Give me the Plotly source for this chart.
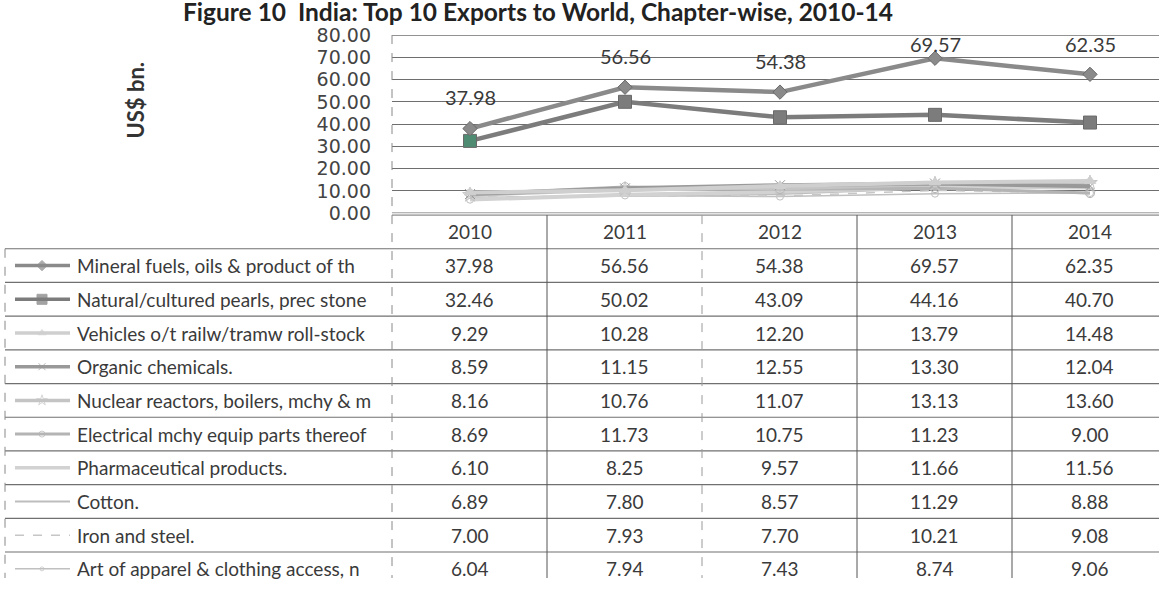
import plotly.graph_objects as go

# ---------------- data ----------------
years = ["2010", "2011", "2012", "2013", "2014"]
series_names = [
    "Mineral fuels, oils & product of th",
    "Natural/cultured pearls, prec stone",
    "Vehicles o/t railw/tramw roll-stock",
    "Organic chemicals.",
    "Nuclear reactors, boilers, mchy & m",
    "Electrical mchy equip parts thereof",
    "Pharmaceutical products.",
    "Cotton.",
    "Iron and steel.",
    "Art of apparel & clothing access, n",
]
mineral_fuels = [37.98, 56.56, 54.38, 69.57, 62.35]
pearls_stones = [32.46, 50.02, 43.09, 44.16, 40.70]
vehicles = [9.29, 10.28, 12.20, 13.79, 14.48]
organic_chem = [8.59, 11.15, 12.55, 13.30, 12.04]
nuclear_mchy = [8.16, 10.76, 11.07, 13.13, 13.60]
electrical_mchy = [8.69, 11.73, 10.75, 11.23, 9.00]
pharma = [6.10, 8.25, 9.57, 11.66, 11.56]
cotton = [6.89, 7.80, 8.57, 11.29, 8.88]
iron_steel = [7.00, 7.93, 7.70, 10.21, 9.08]
apparel = [6.04, 7.94, 7.43, 8.74, 9.06]
y_ticks = [0, 10, 20, 30, 40, 50, 60, 70, 80]

values = [mineral_fuels, pearls_stones, vehicles, organic_chem, nuclear_mchy,
          electrical_mchy, pharma, cotton, iron_steel, apparel]

# ---------------- styles ----------------
styles = [
    dict(color="#8a8a8a", width=4.5, dash="solid", symbol="diamond", msize=11),
    dict(color="#7c7c7c", width=4.5, dash="solid", symbol="square", msize=13),
    dict(color="#cfcfcf", width=4, dash="solid", symbol="triangle-up", msize=10),
    dict(color="#999999", width=4, dash="solid", symbol="x-thin-open", msize=10),
    dict(color="#c4c4c4", width=4, dash="solid", symbol="star-open", msize=11),
    dict(color="#b4b4b4", width=3, dash="solid", symbol="circle-open", msize=9),
    dict(color="#d2d2d2", width=4, dash="solid", symbol=None, msize=0),
    dict(color="#bdbdbd", width=2, dash="solid", symbol=None, msize=0),
    dict(color="#c6c6c6", width=1.5, dash="dash", symbol=None, msize=0),
    dict(color="#c0c0c0", width=1.5, dash="solid", symbol="circle-open", msize=7),
]

W, H = 1159, 589
plot_left, plot_top, plot_bottom = 392, 25, 210
col_w = 155
hdr_top, row_h = 212, 35
table_left = 5
text_font = "Lato"
txt_color = "#3a3a3a"
tbl_size = 19

fig = go.Figure()

# main chart series (small ones first so the big ones sit on top)
for i in reversed(range(len(series_names))):
    s = styles[i]
    mode = "lines+markers" if s["symbol"] else "lines"
    mcolor = s["color"]
    if i == 1:
        mcolor = ["#4f8a72"] + [s["color"]] * (len(years) - 1)
    fig.add_trace(go.Scatter(
        x=list(range(len(years))), y=values[i], mode=mode, name=series_names[i],
        line=dict(color=s["color"], width=s["width"], dash=s["dash"]),
        marker=dict(symbol=s["symbol"] or "circle", size=s["msize"], color=mcolor,
                    line=dict(color="#6a6a6a" if i < 2 else s["color"], width=1)),
        xaxis="x", yaxis="y", showlegend=False, hoverinfo="skip",
    ))

# data labels for the top series
for k, v in enumerate(mineral_fuels):
    fig.add_annotation(x=k, y=min(v + 14, 76), xref="x", yref="y",
                       text=f"{v:.2f}", showarrow=False,
                       font=dict(family=text_font, size=20, color=txt_color))

# top / bottom grid lines of the value axis
for gv in (y_ticks[0], y_ticks[-1]):
    fig.add_shape(type="line", xref="paper", yref="y", x0=plot_left / W, x1=1, y0=gv, y1=gv,
                  line=dict(color="#6e6e6e", width=1.2))

# ---------------- data table (pixel-like overlay axes) ----------------
n_rows = len(series_names)
table_bottom = hdr_top + row_h * (n_rows + 1)
col_edges = [plot_left + col_w * k for k in range(len(years) + 1)]
line_col = "#707070"

fig.add_shape(type="line", xref="x2", yref="y2", x0=plot_left, x1=W, y0=hdr_top, y1=hdr_top,
              line=dict(color=line_col, width=1))
for r in range(n_rows):
    yy = hdr_top + row_h * (r + 1)
    fig.add_shape(type="line", xref="x2", yref="y2", x0=table_left, x1=W, y0=yy, y1=yy,
                  line=dict(color=line_col, width=1.2))
fig.add_shape(type="line", xref="x2", yref="y2", x0=table_left, x1=table_left,
              y0=hdr_top + row_h, y1=table_bottom, line=dict(color="#888", width=1, dash="dash"))
fig.add_shape(type="line", xref="x2", yref="y2", x0=plot_left, x1=plot_left,
              y0=plot_top, y1=table_bottom, line=dict(color="#888", width=1, dash="dash"))
for k, xe in enumerate(col_edges[1:-1]):
    fig.add_shape(type="line", xref="x2", yref="y2", x0=xe, x1=xe, y0=hdr_top, y1=table_bottom,
                  line=dict(color="#555" if k != 1 else "#999", width=1,
                            dash="solid" if k != 1 else "dash"))

for k, yr in enumerate(years):
    fig.add_annotation(x=plot_left + col_w * (k + 0.5), y=hdr_top + row_h / 2, xref="x2", yref="y2",
                       text=yr, showarrow=False,
                       font=dict(family=text_font, size=tbl_size, color=txt_color))

for r, name in enumerate(series_names):
    cy = hdr_top + row_h * (r + 1.5)
    s = styles[r]
    fig.add_trace(go.Scatter(
        x=[15, 42, 70], y=[cy, cy, cy], xaxis="x2", yaxis="y2",
        mode="lines+markers" if s["symbol"] else "lines",
        line=dict(color=s["color"], width=min(s["width"], 3.5), dash=s["dash"]),
        marker=dict(symbol=s["symbol"] or "circle", size=[0, max(s["msize"] - 3, 0), 0],
                    color=s["color"], line=dict(color=s["color"], width=1)),
        showlegend=False, hoverinfo="skip",
    ))
    fig.add_annotation(x=75, y=cy, xref="x2", yref="y2", text=name, showarrow=False,
                       xanchor="left", font=dict(family=text_font, size=tbl_size, color=txt_color))
    for k, v in enumerate(values[r]):
        fig.add_annotation(x=plot_left + col_w * (k + 0.5), y=cy, xref="x2", yref="y2",
                           text=f"{v:.2f}", showarrow=False,
                           font=dict(family=text_font, size=tbl_size, color=txt_color))

# title (partly cut off at top) and axis title
fig.add_annotation(x=538, y=0.5, xref="x2", yref="y2",
                   text="<b>Figure 10  India: Top 10 Exports to World, Chapter-wise, 2010-14</b>",
                   showarrow=False, font=dict(family=text_font, size=24.5, color="#222"),
                   yanchor="middle")
fig.add_annotation(x=136, y=93, xref="x2", yref="y2", text="<b>US$ bn.</b>", textangle=-90,
                   showarrow=False, font=dict(family=text_font, size=22, color="#333"))

x_lo = -(470 - plot_left) / col_w
x_hi = x_lo + (W - plot_left) / col_w

fig.update_layout(
    width=W, height=H, margin=dict(l=0, r=0, t=0, b=0),
    paper_bgcolor="white", plot_bgcolor="rgba(0,0,0,0)",
    xaxis=dict(domain=[plot_left / W, 1], range=[x_lo, x_hi],
               showticklabels=False, showgrid=False, zeroline=False, showline=False),
    yaxis=dict(domain=[1 - plot_bottom / H, 1 - plot_top / H], range=[0, 80],
               tickvals=y_ticks, tickformat=".2f", showgrid=True, gridcolor="#6e6e6e",
               gridwidth=1.2, zeroline=False, showline=False, ticklabelstandoff=20,
               tickfont=dict(family="DejaVu Sans", size=19, color="#444")),
    xaxis2=dict(domain=[0, 1], range=[0, W], visible=False, anchor="y2"),
    yaxis2=dict(domain=[0, 1], range=[H, 0], visible=False, anchor="x2"),
)

fig.write_html("out.html", config=dict(displayModeBar=False),
               post_script="document.body.style.margin='0';document.body.style.overflow='hidden';")
